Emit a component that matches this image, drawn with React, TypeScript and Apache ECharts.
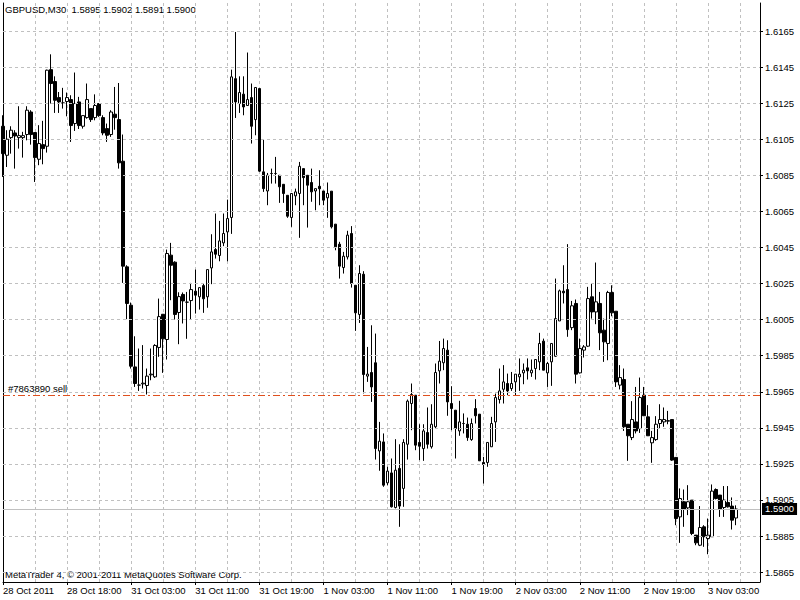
import React, { useEffect, useRef } from "react";
import * as echarts from "echarts";

const symbolName = "GBPUSD,M30";
const copyright = "MetaTrader 4, © 2001-2011 MetaQuotes Software Corp.";
const orderLabel = "#7863890 sell";
const orderPrice = 1.5963;

const timeLabels = [
  "28 Oct 2011", "28 Oct 18:00", "31 Oct 03:00", "31 Oct 11:00", "31 Oct 19:00", "1 Nov 03:00",
  "1 Nov 11:00", "1 Nov 19:00", "2 Nov 03:00", "2 Nov 11:00", "2 Nov 19:00", "3 Nov 03:00",
];
const priceTicks = [
  1.5865, 1.5885, 1.5905, 1.5925, 1.5945, 1.5965, 1.5985, 1.6005, 1.6025, 1.6045, 1.6065,
  1.6085, 1.6105, 1.6125, 1.6145, 1.6165,
];

const opens = [
  1.61123, 1.60962, 1.61060, 1.61086, 1.61060, 1.61060, 1.61077, 1.61202, 1.61088, 1.60940,
  1.61021, 1.61012, 1.61437, 1.61371, 1.61282, 1.61252, 1.61260, 1.61271, 1.61138, 1.61258,
  1.61123, 1.61171, 1.61221, 1.61171, 1.61249, 1.61171, 1.61110, 1.61077, 1.61190, 1.61160,
  1.60929, 1.60343, 1.60130, 1.59788, 1.59687, 1.59694, 1.59685, 1.59744, 1.59733, 1.59896,
  1.60080, 1.59940, 1.60408, 1.60369, 1.60090, 1.60190, 1.60147, 1.60156, 1.60208, 1.60177,
  1.60239, 1.60177, 1.60337, 1.60439, 1.60406, 1.60476, 1.60537, 1.60617, 1.61387, 1.61249,
  1.61301, 1.61238, 1.61282, 1.61160, 1.61332, 1.60870, 1.60764, 1.60861, 1.60861, 1.60851,
  1.60801, 1.60740, 1.60617, 1.60737, 1.60750, 1.60888, 1.60851, 1.60811, 1.60764, 1.60790,
  1.60764, 1.60726, 1.60763, 1.60580, 1.60469, 1.60339, 1.60398, 1.60528, 1.60241, 1.60079,
  1.60302, 1.59737, 1.59757, 1.59811, 1.59322, 1.59372, 1.59145, 1.59200, 1.59008, 1.59225,
  1.59114, 1.59359, 1.59585, 1.59631, 1.59369, 1.59335, 1.59424, 1.59345, 1.59456, 1.59766,
  1.59811, 1.59881, 1.59585, 1.59548, 1.59433, 1.59474, 1.59470, 1.59385, 1.59557, 1.59526,
  1.59258, 1.59258, 1.59345, 1.59483, 1.59607, 1.59664, 1.59696, 1.59668, 1.59705, 1.59733,
  1.59755, 1.59783, 1.59755, 1.59779, 1.59816, 1.59931, 1.59755, 1.59816, 1.59847, 1.60043,
  1.60208, 1.60217, 1.60006, 1.60140, 1.59755, 1.59881, 1.59903, 1.60177, 1.60093, 1.60140,
  1.59992, 1.59918, 1.60201, 1.60097, 1.59687, 1.59718, 1.59470, 1.59396, 1.59483, 1.59446,
  1.59631, 1.59511, 1.59367, 1.59385, 1.59474, 1.59483, 1.59487, 1.59496, 1.59286, 1.58956,
  1.59040, 1.59006, 1.59049, 1.58855, 1.58799, 1.58901, 1.58836, 1.58846, 1.59108, 1.59077,
  1.59008, 1.59036, 1.59016, 1.58950,
];
const highs = [
  1.61184, 1.61101, 1.61123, 1.61101, 1.61234, 1.61092, 1.61234, 1.61212, 1.61088, 1.61129,
  1.61153, 1.61437, 1.61522, 1.61400, 1.61313, 1.61336, 1.61310, 1.61295, 1.61421, 1.61286,
  1.61182, 1.61360, 1.61221, 1.61300, 1.61249, 1.61184, 1.61138, 1.61212, 1.61341, 1.61363,
  1.61077, 1.60352, 1.60145, 1.59958, 1.59890, 1.59909, 1.59779, 1.59890, 1.59914, 1.60167,
  1.60080, 1.60439, 1.60476, 1.60374, 1.60202, 1.60201, 1.60204, 1.60254, 1.60328, 1.60228,
  1.60250, 1.60328, 1.60524, 1.60639, 1.60598, 1.60639, 1.60716, 1.61437, 1.61646, 1.61400,
  1.61400, 1.61532, 1.61360, 1.61338, 1.61332, 1.61051, 1.60864, 1.60888, 1.60953, 1.60851,
  1.60801, 1.60740, 1.60750, 1.60777, 1.60925, 1.60888, 1.60851, 1.60888, 1.60777, 1.60879,
  1.60764, 1.60811, 1.60763, 1.60580, 1.60482, 1.60426, 1.60543, 1.60569, 1.60241, 1.60352,
  1.60319, 1.59899, 1.60019, 1.59973, 1.59483, 1.59419, 1.59234, 1.59280, 1.59387, 1.59359,
  1.59387, 1.59607, 1.59696, 1.59631, 1.59470, 1.59470, 1.59563, 1.59581, 1.59807, 1.59932,
  1.59945, 1.59936, 1.59681, 1.59548, 1.59600, 1.59530, 1.59507, 1.59502, 1.59609, 1.59526,
  1.59289, 1.59369, 1.59511, 1.59640, 1.59779, 1.59798, 1.59751, 1.59760, 1.59748, 1.59835,
  1.59807, 1.59835, 1.59829, 1.59829, 1.59977, 1.59945, 1.59816, 1.59918, 1.60278, 1.60217,
  1.60352, 1.60469, 1.60154, 1.60162, 1.59945, 1.59909, 1.60232, 1.60250, 1.60367, 1.60204,
  1.60056, 1.60210, 1.60241, 1.60097, 1.59798, 1.59779, 1.59470, 1.59598, 1.59677, 1.59729,
  1.59677, 1.59576, 1.59433, 1.59515, 1.59581, 1.59563, 1.59544, 1.59496, 1.59286, 1.59114,
  1.59108, 1.59132, 1.59049, 1.58855, 1.59016, 1.58910, 1.58947, 1.59136, 1.59114, 1.59077,
  1.59127, 1.59127, 1.59064, 1.59020,
];
const lows = [
  1.60842, 1.60897, 1.60971, 1.60888, 1.60999, 1.60949, 1.61045, 1.61021, 1.60814, 1.60907,
  1.60912, 1.60977, 1.61249, 1.61197, 1.61197, 1.61221, 1.61178, 1.61036, 1.61097, 1.61108,
  1.61110, 1.61165, 1.61147, 1.61156, 1.61175, 1.61073, 1.61036, 1.61064, 1.61104, 1.60888,
  1.60254, 1.60053, 1.59779, 1.59677, 1.59655, 1.59668, 1.59635, 1.59714, 1.59727, 1.59844,
  1.59755, 1.59829, 1.60158, 1.60051, 1.59914, 1.60029, 1.59944, 1.60053, 1.60084, 1.60106,
  1.60088, 1.60116, 1.60247, 1.60389, 1.60374, 1.60458, 1.60374, 1.60526, 1.61169, 1.61197,
  1.61184, 1.61238, 1.61027, 1.61073, 1.60870, 1.60759, 1.60685, 1.60805, 1.60805, 1.60698,
  1.60698, 1.60615, 1.60565, 1.60685, 1.60504, 1.60685, 1.60561, 1.60704, 1.60657, 1.60685,
  1.60685, 1.60615, 1.60556, 1.60435, 1.60278, 1.60306, 1.60384, 1.60228, 1.59988, 1.60032,
  1.59641, 1.59705, 1.59594, 1.59274, 1.59212, 1.59123, 1.59132, 1.59008, 1.59003, 1.58901,
  1.59012, 1.59274, 1.59437, 1.59326, 1.59271, 1.59267, 1.59335, 1.59335, 1.59446, 1.59696,
  1.59770, 1.59517, 1.59437, 1.59280, 1.59406, 1.59419, 1.59378, 1.59378, 1.59474, 1.59267,
  1.59141, 1.59234, 1.59345, 1.59372, 1.59585, 1.59585, 1.59631, 1.59655, 1.59631, 1.59655,
  1.59692, 1.59718, 1.59733, 1.59718, 1.59770, 1.59770, 1.59677, 1.59683, 1.59844, 1.60043,
  1.60140, 1.59955, 1.59992, 1.59696, 1.59751, 1.59840, 1.59899, 1.60056, 1.60025, 1.59881,
  1.59816, 1.59825, 1.60069, 1.59677, 1.59663, 1.59433, 1.59267, 1.59382, 1.59419, 1.59422,
  1.59517, 1.59406, 1.59256, 1.59378, 1.59446, 1.59456, 1.59470, 1.59267, 1.58910, 1.58812,
  1.58901, 1.58966, 1.58855, 1.58799, 1.58794, 1.58790, 1.58749, 1.58846, 1.59053, 1.58956,
  1.58956, 1.59008, 1.58886, 1.58910,
];
const closes = [
  1.60971, 1.61051, 1.61101, 1.61069, 1.61071, 1.61071, 1.61212, 1.61077, 1.60949, 1.61027,
  1.60999, 1.61434, 1.61360, 1.61267, 1.61258, 1.61252, 1.61282, 1.61127, 1.61249, 1.61127,
  1.61182, 1.61271, 1.61160, 1.61238, 1.61182, 1.61086, 1.61073, 1.61202, 1.61171, 1.60920,
  1.60347, 1.60140, 1.59792, 1.59696, 1.59687, 1.59698, 1.59737, 1.59748, 1.59907, 1.60067,
  1.59944, 1.60417, 1.60352, 1.60079, 1.60178, 1.60154, 1.60147, 1.60217, 1.60186, 1.60228,
  1.60166, 1.60328, 1.60426, 1.60413, 1.60487, 1.60528, 1.60611, 1.61397, 1.61258, 1.61310,
  1.61230, 1.61271, 1.61123, 1.61338, 1.60874, 1.60777, 1.60851, 1.60861, 1.60861, 1.60787,
  1.60750, 1.60624, 1.60750, 1.60759, 1.60901, 1.60838, 1.60796, 1.60759, 1.60777, 1.60776,
  1.60713, 1.60750, 1.60565, 1.60454, 1.60347, 1.60402, 1.60519, 1.60251, 1.60088, 1.60306,
  1.59746, 1.59748, 1.59677, 1.59335, 1.59376, 1.59132, 1.59210, 1.59012, 1.59215, 1.59016,
  1.59369, 1.59598, 1.59635, 1.59354, 1.59348, 1.59433, 1.59359, 1.59470, 1.59757, 1.59820,
  1.59890, 1.59594, 1.59557, 1.59446, 1.59483, 1.59474, 1.59396, 1.59474, 1.59517, 1.59267,
  1.59247, 1.59369, 1.59474, 1.59618, 1.59655, 1.59705, 1.59655, 1.59696, 1.59748, 1.59748,
  1.59770, 1.59766, 1.59770, 1.59829, 1.59918, 1.59770, 1.59807, 1.59918, 1.60056, 1.60210,
  1.60199, 1.59995, 1.60127, 1.59748, 1.59890, 1.59899, 1.60167, 1.60093, 1.60149, 1.59977,
  1.59927, 1.60201, 1.60088, 1.59705, 1.59729, 1.59456, 1.59406, 1.59496, 1.59433, 1.59618,
  1.59517, 1.59406, 1.59396, 1.59470, 1.59496, 1.59496, 1.59490, 1.59271, 1.58947, 1.59058,
  1.58997, 1.59040, 1.58864, 1.58812, 1.58897, 1.58846, 1.58855, 1.59099, 1.59058, 1.58997,
  1.59049, 1.59012, 1.58938, 1.59000,
];

const BARS_PER_LABEL = 16;
const SLOT_COUNT = 190; // bar slots including the empty shift area on the right

const FONT = '"Liberation Sans", Arial, sans-serif';

export default function App() {
  const ref = useRef<HTMLDivElement>(null);

  useEffect(() => {
    if (!ref.current) return;
    const chart = echarts.init(ref.current, undefined, { renderer: "svg" });
    const n = closes.length;
    const last = n - 1;
    const f4 = (v: number) => v.toFixed(4);
    const categories = Array.from({ length: SLOT_COUNT }, (_, i) => String(i));
    const candleData = opens.map((o, i) => [o, closes[i], lows[i], highs[i]]);
    const headline = `${symbolName}  ${f4(opens[last])} ${f4(highs[last])} ${f4(lows[last])} ${f4(closes[last])}`;

    const yMax = 1.618067;
    const yMin = 1.585949;

    chart.setOption({
      animation: false,
      backgroundColor: "#ffffff",
      textStyle: { fontFamily: FONT },
      grid: { left: 3, right: 40, top: 3, bottom: 18, containLabel: false },
      xAxis: {
        type: "category",
        data: categories,
        boundaryGap: false,
        axisLine: { show: true, lineStyle: { color: "#000", width: 1 } },
        axisTick: { show: true, interval: BARS_PER_LABEL - 1, length: 3, lineStyle: { color: "#000" } },
        axisLabel: {
          interval: BARS_PER_LABEL - 1,
          formatter: (_v: string, idx: number) => timeLabels[idx / BARS_PER_LABEL] ?? "",
          align: "left",
          margin: 3,
          color: "#000",
          fontSize: 9.5,
          fontFamily: FONT,
        },
        splitLine: {
          show: true,
          interval: 7,
          lineStyle: { color: "#c0c0c0", type: [3, 3], width: 1 },
        },
      },
      yAxis: [
        {
          type: "value",
          position: "right",
          min: yMin,
          max: yMax,
          scale: true,
          axisLine: { show: true, lineStyle: { color: "#000", width: 1 } },
          axisTick: { show: true, customValues: priceTicks, length: 3, lineStyle: { color: "#000" } },
          axisLabel: {
            customValues: priceTicks,
            formatter: (v: number) => v.toFixed(4),
            color: "#000",
            fontSize: 9.5,
            fontFamily: FONT,
            margin: 5,
          },
          splitLine: { show: false },
        },
        {
          type: "value",
          position: "left",
          min: yMin,
          max: yMax,
          scale: true,
          axisLine: { show: true, lineStyle: { color: "#000", width: 1 } },
          axisTick: { show: false },
          axisLabel: { show: false },
          splitLine: { show: false },
        },
      ],
      series: [
        {
          type: "line",
          data: [],
          yAxisIndex: 0,
          silent: true,
          z: 1,
          markLine: {
            silent: true,
            precision: 6,
            symbol: ["none", "none"],
            animation: false,
            label: { show: false },
            lineStyle: { color: "#c0c0c0", type: [3, 3], width: 1 },
            emphasis: { disabled: true },
            data: priceTicks.map((v) => ({ yAxis: v })),
          },
        },
        {
          type: "candlestick",
          data: candleData,
          yAxisIndex: 0,
          barWidth: 3,
          clip: false,
          z: 3,
          itemStyle: {
            color: "#ffffff",
            color0: "#000000",
            borderColor: "#000000",
            borderColor0: "#000000",
            borderWidth: 1,
          },
          markLine: {
            silent: true,
            precision: 6,
            symbol: ["none", "none"],
            animation: false,
            emphasis: { disabled: true },
            data: [
              {
                yAxis: closes[last],
                lineStyle: { color: "#c0c0c0", type: "solid", width: 1 },
                label: {
                  show: true,
                  position: "end",
                  distance: 2,
                  formatter: f4(closes[last]),
                  color: "#ffffff",
                  backgroundColor: "#000000",
                  padding: [1, 3, 1, 3],
                  fontSize: 9.5,
                  fontFamily: FONT,
                },
              },
              {
                yAxis: orderPrice,
                lineStyle: { color: "#e0501e", type: [7, 3, 2, 3], width: 1 },
                label: {
                  show: true,
                  position: "insideStartTop",
                  distance: [5, 2],
                  formatter: orderLabel,
                  color: "#000000",
                  fontSize: 9.5,
                  fontFamily: FONT,
                },
              },
            ],
          },
        },
      ],
      graphic: [
        {
          type: "text",
          left: 5,
          top: 4,
          style: { text: headline, fill: "#000", font: `9.5px ${FONT}` },
        },
        {
          type: "text",
          left: 5,
          top: 569,
          style: { text: copyright, fill: "#000", font: `9.5px ${FONT}` },
        },
      ],
    });

    return () => chart.dispose();
  }, []);

  return (
    <div
      ref={ref}
      style={{ position: "fixed", left: 0, top: 0, width: 800, height: 600, background: "#fff" }}
    />
  );
}
